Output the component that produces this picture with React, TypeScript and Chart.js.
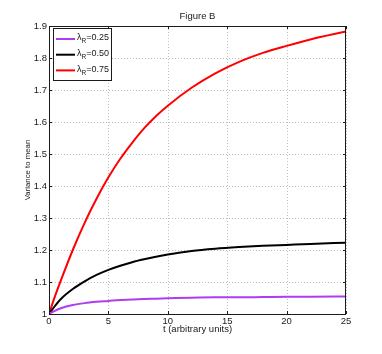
import { useEffect, useRef } from 'react';
import { Chart, registerables } from 'chart.js';

Chart.register(...registerables);

const tValues = [0, 0.5, 1, 2, 3, 4, 5, 6, 7, 8, 9, 10, 12, 14, 16, 18, 20, 22, 25];
const lambdaValues = ['0.25', '0.50', '0.75'];
const seriesLow = [1.0, 1.01, 1.018, 1.028, 1.034, 1.038, 1.041, 1.044, 1.045, 1.047, 1.048, 1.049, 1.051, 1.052, 1.052, 1.053, 1.054, 1.054, 1.055];
const seriesMid = [1.0, 1.025, 1.047, 1.078, 1.102, 1.122, 1.138, 1.151, 1.162, 1.171, 1.179, 1.186, 1.197, 1.204, 1.209, 1.213, 1.216, 1.219, 1.223];
const seriesHigh = [1.0, 1.055, 1.105, 1.2, 1.285, 1.36, 1.427, 1.485, 1.535, 1.58, 1.618, 1.651, 1.707, 1.752, 1.788, 1.816, 1.838, 1.858, 1.883];
const xTicks = [0, 5, 10, 15, 20, 25];
const yTicks = [1, 1.1, 1.2, 1.3, 1.4, 1.5, 1.6, 1.7, 1.8, 1.9];
const seriesColors = ['#b03cf0', '#000000', '#ff0000'];

const FONT = '"Liberation Sans", Arial, Helvetica, sans-serif';

const gridPlugin = {
  id: 'dottedGrid',
  beforeDatasetsDraw(chart: any) {
    const { ctx, chartArea } = chart;
    const { left, right, top, bottom } = chartArea;
    const xs = chart.scales.x;
    const ys = chart.scales.y;
    ctx.save();
    ctx.strokeStyle = '#bdbdbd';
    ctx.lineWidth = 1;
    ctx.setLineDash([1, 2]);
    ctx.beginPath();
    xTicks.forEach((v) => {
      const px = Math.round(xs.getPixelForValue(v)) + 0.5;
      ctx.moveTo(px, top);
      ctx.lineTo(px, bottom);
    });
    yTicks.forEach((v) => {
      const py = Math.round(ys.getPixelForValue(v)) + 0.5;
      ctx.moveTo(left, py);
      ctx.lineTo(right, py);
    });
    ctx.stroke();
    ctx.restore();
  },
};

const boxPlugin = {
  id: 'matlabBox',
  afterDraw(chart: any) {
    const { ctx, chartArea } = chart;
    const { left, right, top, bottom } = chartArea;
    const xs = chart.scales.x;
    const ys = chart.scales.y;
    ctx.save();
    ctx.strokeStyle = '#1a1a1a';
    ctx.lineWidth = 1;
    ctx.strokeRect(Math.round(left) + 0.5, Math.round(top) + 0.5, Math.round(right) - Math.round(left) - 1, Math.round(bottom) - Math.round(top));
    ctx.beginPath();
    xTicks.forEach((v) => {
      const px = Math.round(xs.getPixelForValue(v)) + 0.5;
      ctx.moveTo(px, bottom);
      ctx.lineTo(px, bottom - 3);
      ctx.moveTo(px, top);
      ctx.lineTo(px, top + 3);
    });
    yTicks.forEach((v) => {
      const py = Math.round(ys.getPixelForValue(v)) + 0.5;
      ctx.moveTo(left, py);
      ctx.lineTo(left + 3, py);
      ctx.moveTo(right, py);
      ctx.lineTo(right - 3, py);
    });
    ctx.stroke();

    // legend
    const bx = 53.5, by = 28.5, bw = 58, bh = 52;
    ctx.fillStyle = '#ffffff';
    ctx.fillRect(bx, by, bw, bh);
    ctx.strokeStyle = '#1a1a1a';
    ctx.strokeRect(bx, by, bw, bh);
    chart.data.datasets.forEach((ds: any, i: number) => {
      const ry = 39 + i * 15.7;
      ctx.strokeStyle = ds.borderColor;
      ctx.lineWidth = 2;
      ctx.beginPath();
      ctx.moveTo(56, ry);
      ctx.lineTo(75, ry);
      ctx.stroke();
      ctx.fillStyle = '#1a1a1a';
      ctx.textBaseline = 'middle';
      ctx.textAlign = 'left';
      let tx = 77;
      ctx.font = `9px ${FONT}`;
      ctx.fillText('λ', tx, ry - 1);
      tx += ctx.measureText('λ').width;
      ctx.font = `6.5px ${FONT}`;
      ctx.fillText('R', tx, ry + 2.5);
      tx += ctx.measureText('R').width;
      ctx.font = `9px ${FONT}`;
      ctx.fillText('=' + lambdaValues[i], tx, ry - 1);
    });
    ctx.restore();
  },
};

export default function App() {
  const ref = useRef<HTMLCanvasElement | null>(null);
  useEffect(() => {
    document.body.style.margin = '0';
    const canvas = ref.current;
    if (!canvas) return;
    const mk = (vals: number[]) => tValues.map((t, i) => ({ x: t, y: vals[i] }));
    const chart = new Chart(canvas, {
      type: 'line',
      data: {
        datasets: [seriesLow, seriesMid, seriesHigh].map((vals, i) => ({
          label: 'λR=' + lambdaValues[i],
          data: mk(vals),
          borderColor: seriesColors[i],
          backgroundColor: seriesColors[i],
          borderWidth: 2,
          pointRadius: 0,
          fill: false,
          tension: 0.4,
          cubicInterpolationMode: 'monotone' as const,
        })),
      },
      plugins: [gridPlugin, boxPlugin],
      options: {
        animation: false,
        responsive: false,
        devicePixelRatio: 1,
        layout: { padding: { left: 0, right: 36, top: 0, bottom: 0 } },
        plugins: {
          legend: { display: false },
          tooltip: { enabled: false },
          title: {
            display: true,
            text: 'Figure B',
            fullSize: false,
            color: '#1a1a1a',
            font: { family: FONT, size: 9.5, weight: 'normal' },
            padding: { top: 11, bottom: 3.6 },
          },
        },
        scales: {
          x: {
            type: 'linear',
            min: 0,
            max: 25,
            afterBuildTicks: (s: any) => { s.ticks = xTicks.map((v) => ({ value: v })); },
            afterFit: (s: any) => { s.height = 40; },
            grid: { display: false, drawTicks: false },
            border: { display: false },
            ticks: {
              padding: 2,
              color: '#1a1a1a',
              font: { family: FONT, size: 9.5 },
              maxRotation: 0,
              callback: (v: any) => String(v),
            },
            title: {
              display: true,
              text: 't (arbitrary units)',
              color: '#1a1a1a',
              font: { family: FONT, size: 9.5 },
              padding: { top: 0, bottom: 19 },
            },
          },
          y: {
            type: 'linear',
            min: 1,
            max: 1.9,
            afterBuildTicks: (s: any) => { s.ticks = yTicks.map((v) => ({ value: v })); },
            afterFit: (s: any) => { s.width = 49; },
            grid: { display: false, drawTicks: false },
            border: { display: false },
            ticks: {
              padding: 2,
              color: '#1a1a1a',
              font: { family: FONT, size: 9.5 },
              callback: (v: any) => String(+(+v).toFixed(2)),
            },
            title: {
              display: true,
              text: 'Variance to mean',
              color: '#1a1a1a',
              font: { family: FONT, size: 7.8 },
              padding: { top: 23, bottom: 0 },
            },
          },
        },
      },
    });
    return () => chart.destroy();
  }, []);
  return (
    <div style={{ width: 382, height: 354 }}>
      <canvas ref={ref} width={382} height={354} style={{ display: 'block' }} />
    </div>
  );
}
